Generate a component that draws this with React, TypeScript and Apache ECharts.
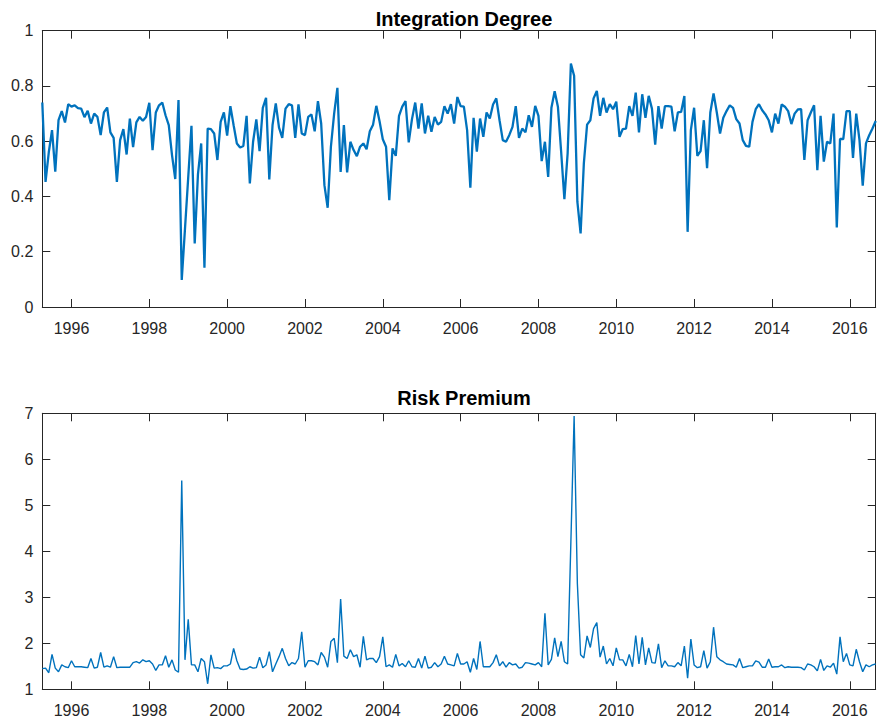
import React, { useEffect, useRef } from "react";
import * as echarts from "echarts";

// Monthly observations, April 1995 .. September 2016
const START_YEAR = 1995.25;
const YEAR_TICKS = [1996, 1998, 2000, 2002, 2004, 2006, 2008, 2010, 2012, 2014, 2016];
const TITLES = ["Integration Degree", "Risk Premium"];

const integrationDegree = [
  0.74, 0.453, 0.56, 0.64, 0.49, 0.676, 0.709, 0.668, 0.734, 0.725,
  0.73, 0.72, 0.718, 0.687, 0.71, 0.664, 0.7, 0.688, 0.622, 0.704,
  0.722, 0.632, 0.612, 0.453, 0.604, 0.644, 0.552, 0.682, 0.579, 0.668,
  0.688, 0.674, 0.688, 0.739, 0.568, 0.704, 0.73, 0.74, 0.694, 0.658,
  0.55, 0.463, 0.749, 0.098, 0.283, 0.469, 0.656, 0.23, 0.48, 0.592,
  0.142, 0.646, 0.644, 0.628, 0.532, 0.67, 0.704, 0.62, 0.727, 0.658,
  0.592, 0.577, 0.583, 0.692, 0.447, 0.598, 0.679, 0.564, 0.721, 0.757,
  0.462, 0.658, 0.737, 0.649, 0.612, 0.718, 0.734, 0.73, 0.612, 0.733,
  0.628, 0.622, 0.688, 0.697, 0.636, 0.745, 0.664, 0.441, 0.359, 0.58,
  0.7, 0.793, 0.489, 0.658, 0.487, 0.598, 0.568, 0.546, 0.58, 0.592,
  0.571, 0.636, 0.66, 0.728, 0.672, 0.607, 0.58, 0.387, 0.574, 0.547,
  0.692, 0.725, 0.745, 0.596, 0.68, 0.74, 0.646, 0.737, 0.628, 0.692,
  0.634, 0.688, 0.66, 0.67, 0.727, 0.7, 0.734, 0.664, 0.76, 0.727,
  0.725, 0.64, 0.432, 0.685, 0.562, 0.682, 0.616, 0.704, 0.682, 0.733,
  0.755, 0.676, 0.604, 0.598, 0.622, 0.652, 0.727, 0.612, 0.646, 0.632,
  0.694, 0.652, 0.728, 0.692, 0.528, 0.598, 0.471, 0.721, 0.781, 0.725,
  0.562, 0.39, 0.556, 0.881, 0.837, 0.381, 0.266, 0.52, 0.66, 0.676,
  0.755, 0.782, 0.692, 0.757, 0.704, 0.734, 0.716, 0.743, 0.616, 0.644,
  0.646, 0.727, 0.692, 0.776, 0.632, 0.77, 0.685, 0.764, 0.718, 0.588,
  0.727, 0.646, 0.727, 0.727, 0.725, 0.636, 0.704, 0.706, 0.764, 0.272,
  0.64, 0.721, 0.547, 0.564, 0.676, 0.502, 0.704, 0.773, 0.704, 0.628,
  0.685, 0.709, 0.73, 0.721, 0.68, 0.664, 0.604, 0.583, 0.58, 0.67,
  0.716, 0.734, 0.712, 0.697, 0.676, 0.632, 0.7, 0.664, 0.733, 0.725,
  0.709, 0.662, 0.7, 0.715, 0.716, 0.532, 0.676, 0.704, 0.73, 0.495,
  0.692, 0.526, 0.598, 0.592, 0.7, 0.288, 0.608, 0.608, 0.709, 0.709,
  0.54, 0.7, 0.604, 0.439, 0.592, 0.622, 0.646, 0.673,
];

const riskPremium = [
  1.45, 1.46, 1.36, 1.76, 1.46, 1.38, 1.53, 1.49, 1.47, 1.62,
  1.49, 1.49, 1.49, 1.48, 1.47, 1.67, 1.46, 1.48, 1.8, 1.48,
  1.51, 1.48, 1.71, 1.47, 1.48, 1.48, 1.48, 1.48, 1.58, 1.6,
  1.57, 1.64, 1.6, 1.62, 1.55, 1.41, 1.53, 1.53, 1.73, 1.48,
  1.64, 1.42, 1.37, 5.54, 1.64, 2.52, 1.53, 1.53, 1.38, 1.67,
  1.6, 1.12, 1.75, 1.46, 1.47, 1.45, 1.51, 1.51, 1.55, 1.89,
  1.62, 1.44, 1.43, 1.44, 1.49, 1.46, 1.47, 1.7, 1.47, 1.53,
  1.82, 1.38, 1.55, 1.71, 1.89, 1.67, 1.51, 1.58, 1.55, 1.67,
  2.25, 1.48, 1.62, 1.62, 1.6, 1.53, 1.8, 1.7, 1.48, 2.04,
  2.11, 1.58, 2.96, 1.72, 1.67, 1.86, 1.71, 1.75, 1.48, 2.15,
  1.64, 1.67, 1.67, 1.58, 1.71, 2.14, 1.49, 1.53, 1.48, 1.76,
  1.51, 1.56, 1.49, 1.62, 1.49, 1.48, 1.67, 1.46, 1.72, 1.46,
  1.48, 1.58, 1.49, 1.55, 1.72, 1.55, 1.53, 1.51, 1.78, 1.55,
  1.55, 1.6, 1.37, 1.67, 1.43, 2.04, 1.49, 1.49, 1.49, 1.58,
  1.75, 1.51, 1.6, 1.48, 1.58, 1.53, 1.55, 1.46, 1.48, 1.58,
  1.57, 1.55, 1.53, 1.58, 1.49, 2.65, 1.53, 1.65, 2.12, 1.71,
  2.04, 1.6, 1.55, 4.2, 6.94, 3.3, 1.75, 1.68, 2.16, 1.91,
  2.32, 2.45, 1.7, 1.94, 1.55, 1.67, 1.51, 1.9, 1.64, 1.64,
  1.51, 1.76, 1.49, 2.17, 1.55, 2.13, 1.53, 1.9, 1.58, 1.57,
  1.99, 1.47, 1.62, 1.51, 1.51, 1.49, 1.58, 1.51, 1.94, 1.24,
  2.09, 1.53, 1.47, 1.49, 1.84, 1.46, 1.6, 2.35, 1.71, 1.64,
  1.6, 1.55, 1.54, 1.53, 1.48, 1.67, 1.47, 1.49, 1.51, 1.51,
  1.62, 1.59, 1.48, 1.48, 1.66, 1.48, 1.49, 1.49, 1.53, 1.47,
  1.49, 1.48, 1.48, 1.48, 1.47, 1.42, 1.55, 1.53, 1.49, 1.4,
  1.65, 1.41, 1.51, 1.48, 1.57, 1.33, 2.14, 1.6, 1.78, 1.53,
  1.51, 1.87, 1.6, 1.38, 1.53, 1.49, 1.53, 1.55,
];

const Y_RANGES = [
  { min: 0, max: 1, interval: 0.2 },
  { min: 1, max: 7, interval: 1 },
];

export default function App() {
  const ref = useRef<HTMLDivElement>(null);

  useEffect(() => {
    if (!ref.current) return;
    const chart = echarts.init(ref.current, null, { renderer: "svg" });
    const font = "'Liberation Sans', Arial, Helvetica, sans-serif";
    const axisColor = "#262626";
    const lineColor = "#0072BD";
    const xMin = START_YEAR;
    const xMax = START_YEAR + (integrationDegree.length - 1) / 12;

    const grids = [
      { left: 42.3, right: 1.3, top: 30.7, height: 276.3, show: false },
      { left: 42.3, right: 1.3, top: 413.3, height: 276, show: false },
    ];

    const xAxes: any[] = [];
    const yAxes: any[] = [];
    [0, 1].forEach((g) => {
      ["bottom", "top"].forEach((pos) => {
        xAxes.push({
          type: "value",
          gridIndex: g,
          position: pos,
          min: xMin,
          max: xMax,
          axisLine: { show: true, onZero: false, lineStyle: { color: axisColor, width: 1 } },
          axisTick: {
            show: true,
            inside: true,
            length: 8,
            customValues: YEAR_TICKS,
            lineStyle: { color: axisColor, width: 1 },
          },
          axisLabel: {
            show: pos === "bottom",
            customValues: YEAR_TICKS,
            formatter: (v: number) => String(Math.round(v)),
            color: axisColor,
            fontFamily: font,
            fontSize: 16,
            margin: 13,
          },
          splitLine: { show: false },
        });
      });
      ["left", "right"].forEach((pos) => {
        yAxes.push({
          type: "value",
          gridIndex: g,
          position: pos,
          min: Y_RANGES[g].min,
          max: Y_RANGES[g].max,
          interval: Y_RANGES[g].interval,
          axisLine: { show: true, onZero: false, lineStyle: { color: axisColor, width: 1 } },
          axisTick: { show: true, inside: true, length: 8, lineStyle: { color: axisColor, width: 1 } },
          axisLabel: {
            show: pos === "left",
            color: axisColor,
            fontFamily: font,
            fontSize: 16,
            margin: 9,
          },
          splitLine: { show: false },
        });
      });
    });

    const dates = integrationDegree.map((_, i) => START_YEAR + i / 12);

    chart.setOption({
      animation: false,
      backgroundColor: "#ffffff",
      title: TITLES.map((t, g) => ({
        text: t,
        left: 459,
        top: g === 0 ? 4 : 383,
        textAlign: "center",
        textStyle: { fontFamily: font, fontWeight: "bold", fontSize: 20, color: "#000000" },
      })),
      grid: grids,
      xAxis: xAxes,
      yAxis: yAxes,
      series: [
        {
          type: "line",
          xAxisIndex: 0,
          yAxisIndex: 0,
          data: integrationDegree.map((v, i) => [dates[i], v]),
          showSymbol: false,
          lineStyle: { color: lineColor, width: 2.3 },
          itemStyle: { color: lineColor },
          clip: true,
        },
        {
          type: "line",
          xAxisIndex: 2,
          yAxisIndex: 2,
          data: riskPremium.map((v, i) => [dates[i], v]),
          showSymbol: false,
          lineStyle: { color: lineColor, width: 1.4 },
          itemStyle: { color: lineColor },
          clip: true,
        },
      ],
    });

    return () => chart.dispose();
  }, []);

  return (
    <div
      ref={ref}
      style={{ position: "fixed", left: 0, top: 0, width: 877, height: 720, background: "#fff" }}
    />
  );
}
